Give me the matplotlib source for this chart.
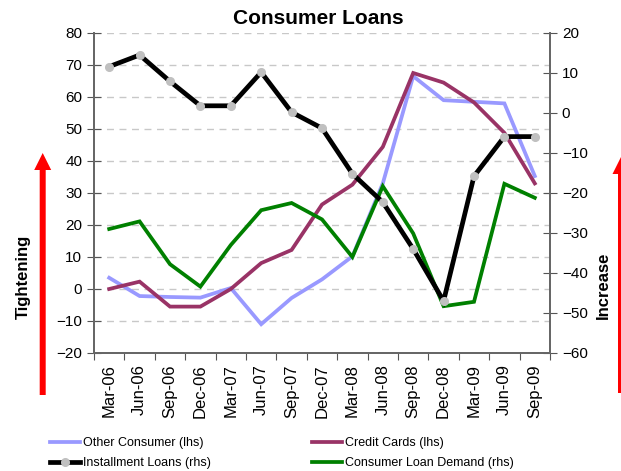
import matplotlib
matplotlib.use("Agg")
import matplotlib.pyplot as plt
from matplotlib.lines import Line2D
from matplotlib.patches import FancyArrow

plt.rcParams['font.family'] = ['Liberation Sans', 'DejaVu Sans']

quarters = ["Mar-06", "Jun-06", "Sep-06", "Dec-06", "Mar-07", "Jun-07", "Sep-07",
            "Dec-07", "Mar-08", "Jun-08", "Sep-08", "Dec-08", "Mar-09", "Jun-09", "Sep-09"]
other_consumer = [3.5, -2.2, -2.5, -2.7, 0.3, -11, -2.8, 3, 10.2, 33, 66.5, 59, 58.5, 58, 35.3]
credit_cards = [0, 2.3, -5.5, -5.5, 0, 8.1, 12.2, 26.4, 32.6, 44.4, 67.5, 64.5, 58.3, 48.8, 33]
installment_loans = [11.6, 14.5, 7.9, 1.8, 1.8, 10.2, 0.2, -3.8, -15.2, -22.3, -34, -47, -15.8, -5.9, -5.9]
loan_demand = [-29, -27.1, -37.8, -43.4, -33, -24.3, -22.5, -26.6, -36, -18.3, -30.1, -48.3, -47.2, -17.7, -21.2]

W, H = 621, 471
fig = plt.figure(figsize=(W / 100, H / 100), dpi=100)
ax = fig.add_axes([94 / W, 1 - 353 / H, (550 - 94) / W, (353 - 33) / H])
ax2 = ax.twinx()

x = list(range(len(quarters)))
ax.plot(x, other_consumer, color="#9999FF", lw=2.7, solid_joinstyle="miter", zorder=3)
ax.plot(x, credit_cards, color="#993366", lw=2.7, solid_joinstyle="miter", zorder=3)
ax2.plot(x, loan_demand, color="#008000", lw=2.7, solid_joinstyle="miter", zorder=3)
ax2.plot(x, installment_loans, color="black", lw=3.4, marker="o", ms=5.5,
         mfc="#C0C0C0", mec="#C0C0C0", solid_joinstyle="miter", zorder=4)

ax.set_xlim(-0.5, len(quarters) - 0.5)
ax.set_ylim(-20, 80)
ax2.set_ylim(-60, 20)
ax.set_yticks(range(-20, 81, 10))
ax2.set_yticks(range(-60, 21, 10))
ax.set_xticks([i - 0.5 for i in range(len(quarters) + 1)])
ax.set_xticklabels([])
ax.set_xticks(x, minor=True)
ax.set_xticklabels(quarters, minor=True, rotation=90, fontsize=12)
ax.tick_params(axis="x", which="minor", length=0, pad=8)
ax.tick_params(axis="x", which="major", length=5, direction="out", color="#555555")
ax.tick_params(axis="y", direction="inout", length=10, labelsize=11, color="#555555")
ax2.tick_params(axis="y", direction="inout", length=10, labelsize=11, color="#555555")

for a in (ax, ax2):
    a.spines["top"].set_visible(False)
    for s in ("left", "right", "bottom"):
        a.spines[s].set_color("#666666")
        a.spines[s].set_linewidth(1.3)
ax2.patch.set_visible(False)

ax.yaxis.grid(True, linestyle=(0, (5, 4)), color="#C8C8C8", lw=1)
ax.set_axisbelow(True)

fig.text(318 / W, 1 - 19 / H, "Consumer Loans", ha="center", va="center",
         fontsize=15, fontweight="bold")

# overlay for arrows and side labels
ov = fig.add_axes([0, 0, 1, 1], zorder=-1)
ov.set_xlim(0, W)
ov.set_ylim(H, 0)
ov.axis("off")
ov.add_patch(FancyArrow(42.7, 395, 0, 153 - 395, width=6, head_width=17, head_length=17,
                        length_includes_head=True, color="#FF0000", lw=0))
ov.add_patch(FancyArrow(621, 393, 0, 157 - 393, width=6, head_width=17, head_length=17,
                        length_includes_head=True, color="#FF0000", lw=0))
fig.text(23 / W, 1 - 277 / H, "Tightening", rotation=90, ha="center", va="center",
         fontsize=12, fontweight="bold")
fig.text(603 / W, 1 - 285 / H, "Increase", rotation=90, ha="center", va="center",
         fontsize=12, fontweight="bold")

handles = [
    Line2D([], [], color="#9999FF", lw=2.7),
    Line2D([], [], color="black", lw=3.4, marker="o", ms=5.5, mfc="#C0C0C0", mec="#C0C0C0"),
    Line2D([], [], color="#993366", lw=2.7),
    Line2D([], [], color="#008000", lw=2.7),
]
labels = ["Other Consumer (lhs)", "Installment Loans (rhs)", "Credit Cards (lhs)",
          "Consumer Loan Demand (rhs)"]
fig.legend(handles, labels, ncol=2, loc="upper left", bbox_to_anchor=(50 / W, 1 - 437 / H),
           frameon=False, fontsize=9,
           handlelength=2.4, handletextpad=0.25,
           columnspacing=8.1, labelspacing=0.65, borderpad=0, borderaxespad=0)

fig.savefig("out.png", dpi=100)
